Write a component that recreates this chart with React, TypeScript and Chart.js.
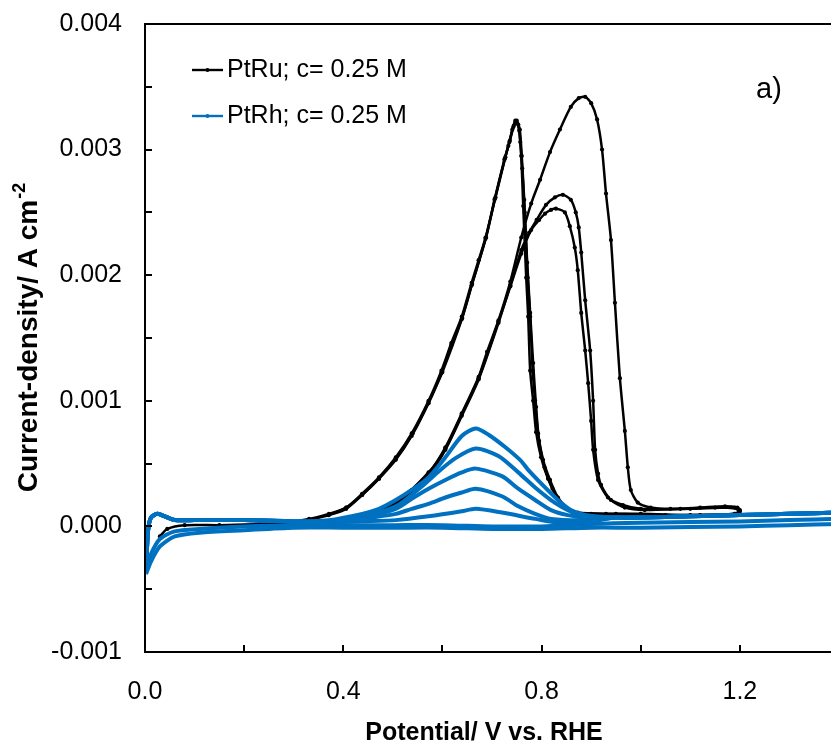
import React, { useEffect, useRef } from 'react';
import { Chart, registerables } from 'chart.js';

Chart.register(...registerables);

type Pt = [number, number];

// ---------- axes ----------
const X_MIN = 0;
const X_MAX = 1.4;
const X_STEP = 0.2;
const Y_MIN = -0.001;
const Y_MAX = 0.004;
const Y_STEP = 0.0005;
const X_LABEL_TICKS = [0, 0.4, 0.8, 1.2];
const Y_LABEL_TICKS = [-0.001, 0, 0.001, 0.002, 0.003, 0.004];
const X_TITLE = 'Potential/ V vs. RHE';
const Y_TITLE = 'Current-density/ A cm';
const Y_TITLE_SUP = '-2';
const PANEL_LABEL = 'a)';
const SERIES_NAMES = ['PtRu; c= 0.25 M', 'PtRh; c= 0.25 M'];
const SERIES_COLORS = ['#000000', '#0070C0'];

// ---------- PtRu (black) : three CV cycles ----------
const ruLowStart: Pt[] = [
  [0.03, -0.00008], [0.045, -0.00002], [0.08, 0.00001], [0.15, 0.00001],
  [0.25, 0.00002], [0.33, 0.00002],
];
const ruCycle1: Pt[] = [
  [0.371, 0.00003], [0.438, 0.00007], [0.472, 0.00011], [0.506, 0.00018],
  [0.538, 0.00029], [0.572, 0.00042], [0.606, 0.00063], [0.639, 0.0009],
  [0.673, 0.00119], [0.69, 0.00139], [0.713, 0.00164], [0.737, 0.00195],
  [0.759, 0.0023], [0.779, 0.00257], [0.797, 0.00276], [0.817, 0.00298],
  [0.837, 0.00316], [0.859, 0.00334], [0.875, 0.00341], [0.888, 0.00342],
  [0.9, 0.00337], [0.912, 0.00324], [0.922, 0.003], [0.93, 0.00265],
  [0.94, 0.00228], [0.948, 0.00178], [0.958, 0.00118], [0.968, 0.00076],
  [0.974, 0.00047], [0.98, 0.00029], [0.994, 0.00019], [1.02, 0.00015],
  [1.06, 0.00014], [1.12, 0.00015], [1.17, 0.00016], [1.195, 0.00015],
  [1.2, 0.00013], [1.19, 0.0001], [1.12, 0.00009], [1.0, 0.0001],
  [0.93, 0.0001], [0.873, 0.00011], [0.853, 0.00014], [0.833, 0.00023],
  [0.817, 0.00037], [0.803, 0.00053], [0.793, 0.00074], [0.787, 0.001],
  [0.782, 0.00124], [0.777, 0.00167], [0.772, 0.00198], [0.766, 0.0025],
  [0.761, 0.00285], [0.757, 0.00306], [0.753, 0.0032], [0.747, 0.00323],
  [0.741, 0.00316], [0.733, 0.00303], [0.727, 0.00294], [0.707, 0.00262],
  [0.687, 0.0023], [0.673, 0.00212], [0.659, 0.00194], [0.639, 0.00167],
  [0.618, 0.00146], [0.598, 0.00124], [0.572, 0.001], [0.538, 0.00074],
  [0.506, 0.00055], [0.472, 0.00039], [0.438, 0.00026], [0.406, 0.00015],
  [0.371, 0.0001], [0.331, 0.00006], [0.28, 0.00003], [0.23, 0.00002],
];
const ruCycle2: Pt[] = [
  [0.3, 0.00003], [0.371, 0.00003], [0.438, 0.00007], [0.472, 0.00011],
  [0.506, 0.00018], [0.538, 0.00028], [0.572, 0.00041], [0.606, 0.00061],
  [0.639, 0.00088], [0.673, 0.00117], [0.713, 0.00162], [0.737, 0.00192],
  [0.759, 0.0022], [0.775, 0.00234], [0.79, 0.00244], [0.809, 0.00256],
  [0.827, 0.00262], [0.843, 0.00264], [0.859, 0.0026], [0.869, 0.0025],
  [0.875, 0.00238], [0.88, 0.00218], [0.888, 0.0018], [0.898, 0.0014],
  [0.904, 0.001], [0.908, 0.00061], [0.914, 0.00042], [0.92, 0.00033],
  [0.94, 0.00021], [0.968, 0.00015], [1.008, 0.00013], [1.08, 0.00014],
  [1.15, 0.00015], [1.195, 0.00014], [1.2, 0.00012], [1.19, 0.0001],
  [1.1, 0.00009], [1.0, 0.00009], [0.9, 0.0001], [0.87, 0.0001],
  [0.85, 0.00014], [0.83, 0.00024], [0.813, 0.00038], [0.799, 0.00055],
  [0.789, 0.00075], [0.783, 0.001], [0.777, 0.00124], [0.773, 0.00167],
  [0.769, 0.00198], [0.763, 0.00255], [0.759, 0.00295], [0.755, 0.00315],
  [0.749, 0.00322], [0.743, 0.00318], [0.735, 0.00306], [0.725, 0.00292],
  [0.705, 0.0026], [0.687, 0.00229], [0.659, 0.00192], [0.639, 0.00165],
  [0.618, 0.00144], [0.598, 0.00122], [0.572, 0.00098], [0.538, 0.00072],
  [0.506, 0.00053], [0.472, 0.00038], [0.438, 0.00025], [0.406, 0.00014],
  [0.371, 0.00009], [0.33, 0.00005],
];
const ruCycle3: Pt[] = [
  [0.33, 0.00003], [0.371, 0.00004], [0.438, 0.00008], [0.506, 0.00019],
  [0.572, 0.00043], [0.606, 0.00062], [0.639, 0.00089], [0.673, 0.00118],
  [0.713, 0.00163], [0.737, 0.00191], [0.759, 0.00217], [0.779, 0.00236],
  [0.795, 0.00244], [0.807, 0.00249], [0.819, 0.00252], [0.829, 0.00253],
  [0.847, 0.0025], [0.857, 0.00239], [0.867, 0.00222], [0.873, 0.00204],
  [0.88, 0.0017], [0.888, 0.0014], [0.894, 0.00114], [0.9, 0.00084],
  [0.904, 0.00061], [0.914, 0.00037], [0.934, 0.00023], [0.964, 0.00017],
  [1.0, 0.00014], [1.1, 0.00014], [1.19, 0.00015], [1.2, 0.00012],
  [1.18, 0.00009], [1.05, 0.00009], [0.95, 0.0001], [0.88, 0.0001],
  [0.86, 0.00012], [0.84, 0.00018], [0.822, 0.0003], [0.806, 0.00047],
  [0.795, 0.00068], [0.789, 0.00095], [0.783, 0.0013], [0.777, 0.0017],
  [0.771, 0.0021], [0.765, 0.0026], [0.76, 0.00295], [0.756, 0.00316],
  [0.75, 0.00323], [0.744, 0.00319], [0.736, 0.00307], [0.726, 0.00293],
  [0.706, 0.00261], [0.688, 0.0023], [0.66, 0.00193], [0.64, 0.00166],
  [0.6, 0.00123], [0.572, 0.00099], [0.54, 0.00074], [0.506, 0.00054],
  [0.472, 0.00038], [0.438, 0.00025], [0.406, 0.00015], [0.37, 0.00009],
];

// ---------- PtRh (blue) : successive cycles ----------
const rhStart: Pt[] = [
  [0.002, -0.00036], [0.006, -0.00004], [0.012, 0.00007], [0.025, 0.0001],
  [0.04, 0.00008], [0.06, 0.00005], [0.1, 0.00005], [0.2, 0.00005], [0.3, 0.00004],
];
const rhEnd: Pt[] = [
  [0.95, 0.00007], [1.0, 0.00007], [1.1, 0.00008], [1.2, 0.00009],
  [1.3, 0.0001], [1.4, 0.00011],
];
const rhBack: Pt[] = [
  [1.4, 0.00002], [1.3, 0.00001], [1.2, 0.0], [1.0, -0.00001], [0.9, -0.00001],
  [0.8, -0.00002], [0.7, -0.00002], [0.6, -0.00001], [0.5, -0.00001],
  [0.4, -0.00001], [0.3, -0.00001], [0.2, -0.00003], [0.11, -0.00005],
  [0.06, -0.00008], [0.03, -0.00016], [0.012, -0.00028], [0.002, -0.00038],
];
const rhBack2: Pt[] = [
  [1.4, 0.00006], [1.3, 0.00005], [1.2, 0.00004], [1.0, 0.00003], [0.9, 0.00002],
  [0.8, 0.0], [0.7, 0.0], [0.6, 0.00001], [0.5, 0.00001], [0.4, 0.00001],
  [0.3, 0.00001], [0.2, 0.0], [0.11, -0.00002], [0.06, -0.00004],
  [0.03, -0.0001], [0.012, -0.00022], [0.002, -0.00034],
];
const rhPeak1: Pt[] = [
  [0.371, 0.00005], [0.438, 0.0001], [0.472, 0.00014], [0.506, 0.00021],
  [0.538, 0.00029], [0.572, 0.00039], [0.606, 0.00055], [0.639, 0.00072],
  [0.667, 0.00078], [0.693, 0.00073], [0.727, 0.00063], [0.759, 0.00052],
  [0.773, 0.00045], [0.807, 0.00031], [0.833, 0.00021], [0.859, 0.00013],
  [0.888, 0.00009],
];
const rhPeak2: Pt[] = [
  [0.371, 0.00004], [0.438, 0.00008], [0.506, 0.00016], [0.556, 0.00031],
  [0.59, 0.00043], [0.625, 0.00054], [0.667, 0.00062], [0.713, 0.00056],
  [0.753, 0.00043], [0.787, 0.00031], [0.819, 0.00021], [0.853, 0.00013],
  [0.89, 0.00008],
];
const rhPeak3: Pt[] = [
  [0.371, 0.00004], [0.438, 0.00007], [0.506, 0.00014], [0.538, 0.00022],
  [0.572, 0.0003], [0.606, 0.00037], [0.639, 0.00043], [0.667, 0.00046],
  [0.72, 0.0004], [0.753, 0.0003], [0.787, 0.00021], [0.819, 0.00013],
  [0.853, 0.00009], [0.89, 0.00007],
];
const rhPeak4: Pt[] = [
  [0.371, 0.00003], [0.438, 0.00006], [0.506, 0.0001], [0.538, 0.00014],
  [0.572, 0.00018], [0.606, 0.00023], [0.639, 0.00027], [0.667, 0.0003],
  [0.72, 0.00024], [0.753, 0.00016], [0.787, 0.0001], [0.819, 0.00006],
  [0.89, 0.00005],
];
const rhPeak5: Pt[] = [
  [0.371, 0.00003], [0.438, 0.00004], [0.506, 0.00005], [0.572, 0.00008],
  [0.639, 0.00012], [0.667, 0.00014], [0.72, 0.00011], [0.787, 0.00006],
  [0.833, 0.00003], [0.9, 0.00004],
];

const FONT = '"Liberation Sans", Arial, sans-serif';

const toXY = (a: Pt[]) => a.map(([x, y]) => ({ x, y }));
const near = (v: number, list: number[]) => list.some((t) => Math.abs(t - v) < 1e-9);

const zeroPad = (s: any) => {
  s.paddingTop = 0;
  s.paddingBottom = 0;
  s.paddingLeft = 0;
  s.paddingRight = 0;
};

const decorPlugin = {
  id: 'decor',
  afterDraw(chart: any) {
    const { ctx, chartArea } = chart;
    const xs = chart.scales.x;
    const ys = chart.scales.y;
    ctx.save();
    // frame
    ctx.strokeStyle = '#000';
    ctx.lineWidth = 2;
    ctx.strokeRect(chartArea.left, chartArea.top, chartArea.right - chartArea.left, chartArea.bottom - chartArea.top);
    // inward tick marks
    ctx.beginPath();
    ys.ticks.forEach((t: any) => {
      const py = Math.round(ys.getPixelForValue(t.value));
      ctx.moveTo(chartArea.left, py);
      ctx.lineTo(chartArea.left + 7, py);
    });
    xs.ticks.forEach((t: any) => {
      const px = Math.round(xs.getPixelForValue(t.value));
      ctx.moveTo(px, chartArea.bottom);
      ctx.lineTo(px, chartArea.bottom - 7);
    });
    ctx.stroke();

    // legend
    ctx.font = `25px ${FONT}`;
    ctx.textBaseline = 'middle';
    ctx.textAlign = 'left';
    const rows = [70, 116];
    SERIES_NAMES.forEach((name, i) => {
      const y = rows[i];
      ctx.strokeStyle = SERIES_COLORS[i];
      ctx.fillStyle = SERIES_COLORS[i];
      ctx.lineWidth = 2.4;
      ctx.beginPath();
      ctx.moveTo(192, y);
      ctx.lineTo(223, y);
      ctx.stroke();
      ctx.beginPath();
      ctx.arc(207.5, y, 2, 0, Math.PI * 2);
      ctx.fill();
      ctx.fillStyle = '#000';
      ctx.fillText(name, 227, y);
    });

    // panel label
    ctx.fillStyle = '#000';
    ctx.font = `29px ${FONT}`;
    ctx.fillText(PANEL_LABEL, 756, 90);

    // x title
    ctx.font = `bold 25px ${FONT}`;
    ctx.textAlign = 'center';
    ctx.fillText(X_TITLE, 484, 733);

    // y title with superscript
    const mainFont = `bold 28px ${FONT}`;
    const supFont = `bold 18px ${FONT}`;
    ctx.font = mainFont;
    const w1 = ctx.measureText(Y_TITLE).width;
    ctx.font = supFont;
    const w2 = ctx.measureText(Y_TITLE_SUP).width;
    const total = w1 + w2;
    const cy = (chartArea.top + chartArea.bottom) / 2;
    ctx.translate(29, cy);
    ctx.rotate(-Math.PI / 2);
    ctx.textAlign = 'left';
    ctx.textBaseline = 'middle';
    ctx.font = mainFont;
    ctx.fillText(Y_TITLE, -total / 2, 0);
    ctx.font = supFont;
    ctx.fillText(Y_TITLE_SUP, -total / 2 + w1 + 1, -9);
    ctx.restore();
  },
};

export default function App() {
  const ref = useRef<HTMLCanvasElement | null>(null);
  useEffect(() => {
    if (!ref.current) return;
    const black = SERIES_COLORS[0];
    const blue = SERIES_COLORS[1];
    const ruStyle = {
      showLine: true,
      borderColor: black,
      backgroundColor: black,
      borderWidth: 2.5,
      pointRadius: 2.1,
      pointBorderWidth: 0,
      pointBackgroundColor: black,
      tension: 0.25,
      order: 1,
    };
    const rhStyle = {
      showLine: true,
      borderColor: blue,
      backgroundColor: blue,
      borderWidth: 4,
      pointRadius: 0,
      tension: 0.25,
      order: 0,
    };
    const rhPeaks = [rhPeak1, rhPeak2, rhPeak3, rhPeak4, rhPeak5];
    const datasets: any[] = [
      { ...ruStyle, label: SERIES_NAMES[0], data: toXY([...ruLowStart, ...ruCycle1]) },
      { ...ruStyle, label: SERIES_NAMES[0] + ' 2', data: toXY(ruCycle2) },
      { ...ruStyle, label: SERIES_NAMES[0] + ' 3', data: toXY(ruCycle3) },
      ...rhPeaks.map((p, i) => ({
        ...rhStyle,
        label: SERIES_NAMES[1] + ' ' + (i + 1),
        data: toXY([...rhStart, ...p, ...rhEnd]),
      })),
      { ...rhStyle, label: SERIES_NAMES[1] + ' back', data: toXY(rhBack) },
      { ...rhStyle, label: SERIES_NAMES[1] + ' back 2', data: toXY(rhBack2) },
    ];
    const chart = new Chart(ref.current, {
      type: 'scatter',
      data: { datasets },
      options: {
        animation: false,
        responsive: false,
        devicePixelRatio: 1,
        layout: { padding: { top: 24, right: 0, left: 0, bottom: 0 } },
        plugins: { legend: { display: false }, tooltip: { enabled: false } },
        scales: {
          x: {
            type: 'linear',
            min: X_MIN,
            max: X_MAX,
            grid: { display: false, drawTicks: false, tickLength: 0 },
            border: { display: false },
            ticks: {
              stepSize: X_STEP,
              autoSkip: false,
              maxRotation: 0,
              padding: 25,
              color: '#000',
              font: { family: FONT, size: 25 },
              callback: (v: any) => (near(Number(v), X_LABEL_TICKS) ? Number(v).toFixed(1) : ''),
            },
            afterFit: (s: any) => {
              s.height = 96;
              zeroPad(s);
            },
          },
          y: {
            type: 'linear',
            min: Y_MIN,
            max: Y_MAX,
            grid: { display: false, drawTicks: false, tickLength: 0 },
            border: { display: false },
            ticks: {
              stepSize: Y_STEP,
              autoSkip: false,
              padding: 23,
              color: '#000',
              font: { family: FONT, size: 25 },
              callback: (v: any) => (near(Number(v), Y_LABEL_TICKS) ? Number(v).toFixed(3) : ''),
            },
            afterFit: (s: any) => {
              s.width = 145;
              zeroPad(s);
            },
          },
        },
      },
      plugins: [decorPlugin],
    });
    return () => chart.destroy();
  }, []);
  return (
    <div style={{ position: 'fixed', left: 0, top: 0, width: 831, height: 748, overflow: 'hidden', background: '#fff' }}>
      <canvas ref={ref} width={843} height={748} style={{ display: 'block' }} />
    </div>
  );
}
